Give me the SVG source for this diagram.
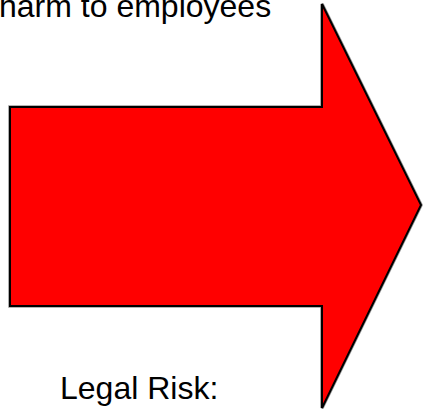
<svg xmlns="http://www.w3.org/2000/svg" width="423" height="413" viewBox="0 0 423 413">
  <style>
    .lbl { font-family: "Liberation Sans", Arial, sans-serif; font-size: 32px; fill: #000; }
    .halo { fill: none; stroke: #9a9a9a; stroke-width: 3.6; stroke-linejoin: miter; }
    .arrow { fill: #FF0000; stroke: #000; stroke-width: 2; stroke-linejoin: miter; }
  </style>
  <rect width="423" height="413" fill="#fff"/>
  <g id="arrow">
    <polygon class="halo" points="10,107 322,107 322,4 421,205 322,408 322,306 10,306"/>
    <polygon class="arrow" points="10,107 322,107 322,4 421,205 322,408 322,306 10,306"/>
  </g>
  <g id="text-top">
    <text class="lbl" x="-1" y="17">harm to employees</text>
  </g>
  <g id="text-bottom">
    <text class="lbl" x="60" y="399">Legal Risk:</text>
  </g>
</svg>
